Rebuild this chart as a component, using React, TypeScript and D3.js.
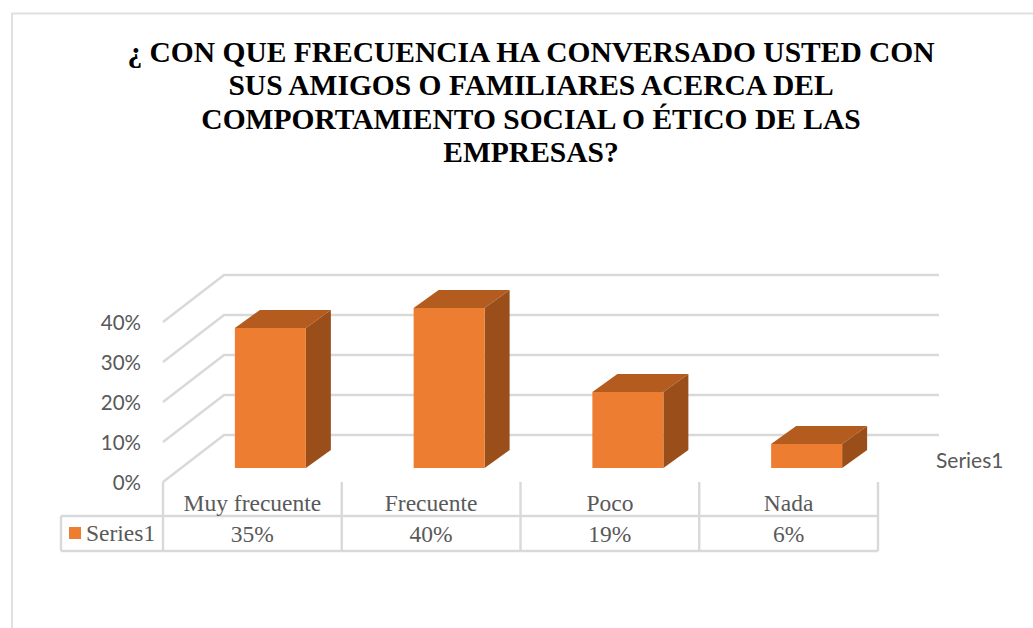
import React from "react";
import * as d3 from "d3";

const titleLines = [
  "¿ CON QUE FRECUENCIA HA CONVERSADO USTED CON",
  "SUS AMIGOS O FAMILIARES ACERCA DEL",
  "COMPORTAMIENTO SOCIAL O ÉTICO DE LAS",
  "EMPRESAS?",
];
const categories = ["Muy frecuente", "Frecuente", "Poco", "Nada"];
const values = [35, 40, 19, 6];
const valueLabels = ["35%", "40%", "19%", "6%"];
const yTicks = [0, 10, 20, 30, 40];
const seriesName = "Series1";

const SERIF = "'Liberation Serif', serif";
const SANS = "Lato, 'Open Sans', sans-serif";
const GRID = "#d9d9d9";
const TEXT = "#595959";

const y = d3.scaleLinear().domain([0, 40]).range([482, 322]);
const x = d3.scaleBand<string>().domain(categories).range([163, 878]);
const wall = { dx: 61, dy: -47 };
const barDepth = { dx: 25, dy: -18 };
const barWidth = 71;
const barBase = 468;
const barShift = 18;
const line = d3.line();

export default function App() {
  const h = (v: number) => y(0) - y(v);
  return (
    <svg width={1033} height={628} style={{ position: "absolute", left: 0, top: 0, background: "#fff" }}>
      <path d="M12 628V13.5H1033" fill="none" stroke="#e0e0e0" strokeWidth={2} />
      {titleLines.map((t, i) => (
        <text key={i} x={531} y={62 + i * 33.4} textAnchor="middle" fontFamily={SERIF} fontWeight={700} fontSize={29.5} fill="#000">{t}</text>
      ))}
      {yTicks.map((t) => (
        <g key={t}>
          <path
            d={line([[163, y(t)], [163 + wall.dx, y(t) + wall.dy], [939, y(t) + wall.dy]]) ?? ""}
            fill="none" stroke={GRID} strokeWidth={2.4}
          />
          <text x={141} y={y(t) + 7.5} textAnchor="end" fontFamily={SANS} fontSize={20.5} fill={TEXT}>{t}%</text>
        </g>
      ))}
      {categories.map((c, i) => {
        const x0 = x(c)! + x.bandwidth() / 2 + barShift - barWidth / 2;
        const x1 = x0 + barWidth;
        const top = barBase - h(values[i]);
        const { dx, dy } = barDepth;
        return (
          <g key={c}>
            <path d={line([[x0, top], [x1, top], [x1 + dx, top + dy], [x0 + dx, top + dy]]) + "Z"} fill="#b45c20" />
            <path d={line([[x1, top], [x1 + dx, top + dy], [x1 + dx, barBase + dy], [x1, barBase]]) + "Z"} fill="#9a4f1b" />
            <rect x={x0} y={top} width={barWidth} height={barBase - top} fill="#ed7d31" />
          </g>
        );
      })}
      <g stroke={GRID} strokeWidth={2.4} fill="none">
        {[...categories.map((c) => x(c)!), 878].map((vx) => (
          <line key={vx} x1={vx} x2={vx} y1={482} y2={551} />
        ))}
        <line x1={61} x2={878} y1={516} y2={516} />
        <line x1={61} x2={878} y1={551} y2={551} />
        <line x1={61} x2={61} y1={516} y2={551} />
      </g>
      {categories.map((c, i) => (
        <g key={c} textAnchor="middle" fontFamily={SERIF} fontSize={23.5} fill={TEXT}>
          <text x={x(c)! + x.bandwidth() / 2} y={511}>{c}</text>
          <text x={x(c)! + x.bandwidth() / 2} y={542}>{valueLabels[i]}</text>
        </g>
      ))}
      <rect x={69} y={527} width={12} height={12} fill="#ed7d31" />
      <text x={86} y={541} fontFamily={SERIF} fontSize={23.5} fill={TEXT}>{seriesName}</text>
      <text x={936} y={468} fontFamily={SANS} fontSize={21} fill={TEXT}>{seriesName}</text>
    </svg>
  );
}
